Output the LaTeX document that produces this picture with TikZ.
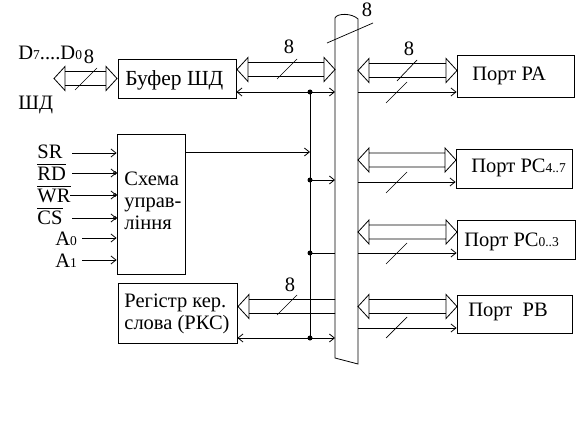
\documentclass[tikz,border=0pt]{standalone}
\usepackage{fontspec}
\setmainfont{Liberation Serif}
\usetikzlibrary{arrows.meta,calc}
\newcommand\bigf{\fontsize{20.5}{22}\selectfont}
\newcommand\buff{\fontsize{21.5}{24}\selectfont}
\newcommand\smd[1]{{\fontsize{13.5}{13.5}\selectfont #1}}
\newcommand\busLR[3]{%
  \draw[bus] (#1,#3) -- ({#1+11},{#3-12}) -- ({#1+11},{#3+12}) -- cycle
             (#2,#3) -- ({#2-11},{#3-12}) -- ({#2-11},{#3+12}) -- cycle
             ({#1+11},{#3-7}) -- ({#2-11},{#3-7})
             ({#1+11},{#3+7}) -- ({#2-11},{#3+7});}
\newcommand\busL[3]{%
  \draw[bus] (#1,#3) -- ({#1+11},{#3-12}) -- ({#1+11},{#3+12}) -- cycle
             ({#1+11},{#3-7}) -- (#2,{#3-7})
             ({#1+11},{#3+7}) -- (#2,{#3+7});}
\begin{document}
\begin{tikzpicture}[x=1pt,y=-1pt,line width=0.8pt,
  >={Straight Barb[length=5pt,width=8pt]},
  box/.style={draw,rectangle,inner sep=0pt},
  txt/.style={inner sep=0pt,font=\bigf},
  jdot/.style={circle,fill,inner sep=0pt,minimum size=5pt},
  bus/.style={line width=0.8pt},
  tick/.style={line width=0.7pt}]
\useasboundingbox (0,0) rectangle (584,433);

% ---- boxes ----
\node[box,minimum width=118pt,minimum height=39pt] (buf) at (177,78.5) {};
\node[txt,anchor=base west,font=\buff] (buft) at (125,86) {Буфер ШД};
\node[box,minimum width=68pt,minimum height=140pt] (ctl) at (151,204) {};
\node[txt,align=left,anchor=west,font=\fontsize{20.5}{22}\selectfont] (ctlt) at (124,201) {Схема\\управ-\\ління};
\node[box,minimum width=119pt,minimum height=60pt] (rks) at (177.5,313) {};
\node[txt,align=left,anchor=west,font=\fontsize{20.5}{21.5}\selectfont] (rkst) at (124,314) {Регістр кер.\\слова (РКС)};
\node[box,minimum width=117pt,minimum height=42pt] (pa) at (515.5,76) {};
\node[box,minimum width=116pt,minimum height=39pt] (pc47) at (514,168.5) {};
\node[box,minimum width=118pt,minimum height=39pt] (pc03) at (516,239.5) {};
\node[box,minimum width=115pt,minimum height=38pt] (pb) at (514.5,314) {};
\node[txt,anchor=base west] (pat) at (472,81) {Порт PA};
\node[txt,anchor=base west] (pc47t) at (471,173) {Порт PC\smd{4..7}};
\node[txt,anchor=base west] (pc03t) at (464,246) {Порт PC\smd{0..3}};
\node[txt,anchor=base west] (pbt) at (468,316) {Порт\ \ PB};

% ---- main bus ----
\draw (335,358) -- (335,18) .. controls (337,13) and (352,13) .. (358,19) -- (358,364) -- cycle;
\coordinate (busL) at (335,0);
\coordinate (busR) at (358,0);
\draw[tick] (327,43) -- (373,23);
\node[txt] (n8a) at (367,10) {8};

% ---- left data bus ----
\node[txt,anchor=base west] (dlab) at (18,60) {D\smd{7}....D\smd{0}};
\node[txt,anchor=base west] (shd) at (18,110) {ШД};
\busLR{54}{117}{78.5}
\draw[tick] (75,90) -- (97,68);
\node[txt] (n8b) at (89,57) {8};

% ---- buffer to bus ----
\busLR{237}{335}{69.5}
\draw[tick] (277,79) -- (297,59);
\node[txt] (n8c) at (289,47) {8};
\coordinate (v1) at (310,92);
\coordinate (v4) at (310,338);
\draw[<->] (buf.east |- v1) -- (busL |- v1);
\draw (v1) -- (v4);
\node[jdot] (j1) at (v1) {};

% ---- control inputs ----
\node[txt,anchor=base west] (sr) at (37,159) {SR};
\node[txt,anchor=base west] (rd) at (37,181) {RD};
\node[txt,anchor=base west] (wr) at (37,203) {WR};
\node[txt,anchor=base west] (cs) at (37,225) {CS};
\node[txt,anchor=base west] (a0) at (55,245) {A\smd{0}};
\node[txt,anchor=base west] (a1) at (55,267) {A\smd{1}};
\draw ([yshift=3pt]rd.north west) -- ([yshift=3pt]rd.north east);
\draw ([yshift=3pt]wr.north west) -- ([yshift=3pt]wr.north east);
\draw ([yshift=3pt]cs.north west) -- ([yshift=3pt]cs.north east);
\draw[->] (72,153) -- (ctl.west |- 0,153);
\draw[->] (72,173) -- (ctl.west |- 0,173);
\draw[->] (70,195) -- (ctl.west |- 0,195);
\draw[->] (72,218) -- (ctl.west |- 0,218);
\draw[->] (82,238) -- (ctl.west |- 0,238);
\draw[->] (82,260) -- (ctl.west |- 0,260);
\foreach \yy in {173,195,218} \draw[line width=0.6pt] (115,\yy) circle (1.6);

% ---- control output and internal lines ----
\draw[->] (ctl.east |- 0,152) -- (v1 |- 0,152);
\coordinate (v2) at (310,180);
\coordinate (v3) at (310,253);
\draw[->] (v2) -- (busL |- v2);
\draw (v3) -- (busL |- v3);
\node[jdot] (j2) at (v2) {};
\node[jdot] (j3) at (v3) {};

% ---- RKS ----
\busL{238}{335}{306.5}
\draw[tick] (277,315) -- (297,295);
\node[txt] (n8d) at (290,285) {8};
\draw[<->] (rks.east |- v4) -- (busL |- v4);
\node[jdot] (j4) at (v4) {};

% ---- ports ----
\busLR{358}{457}{70.5}
\draw[tick] (397,81) -- (417,60);
\node[txt] (n8e) at (409,49) {8};
\draw[->] (busR |- 0,92) -- (pa.west |- 0,92);
\draw[tick] (386,103) -- (407,82);

\busLR{358}{456}{160}
\draw[->] (busR |- 0,182) -- (pc47.west |- 0,182);
\draw[tick] (386,193) -- (407,172);

\busLR{358}{457}{232}
\draw[->] (busR |- 0,253) -- (pc03.west |- 0,253);
\draw[tick] (386,264) -- (407,243);

\busLR{358}{457}{306.5}
\draw[->] (busR |- 0,328) -- (pb.west |- 0,328);
\draw[tick] (386,338) -- (407,317);
\end{tikzpicture}
\end{document}
